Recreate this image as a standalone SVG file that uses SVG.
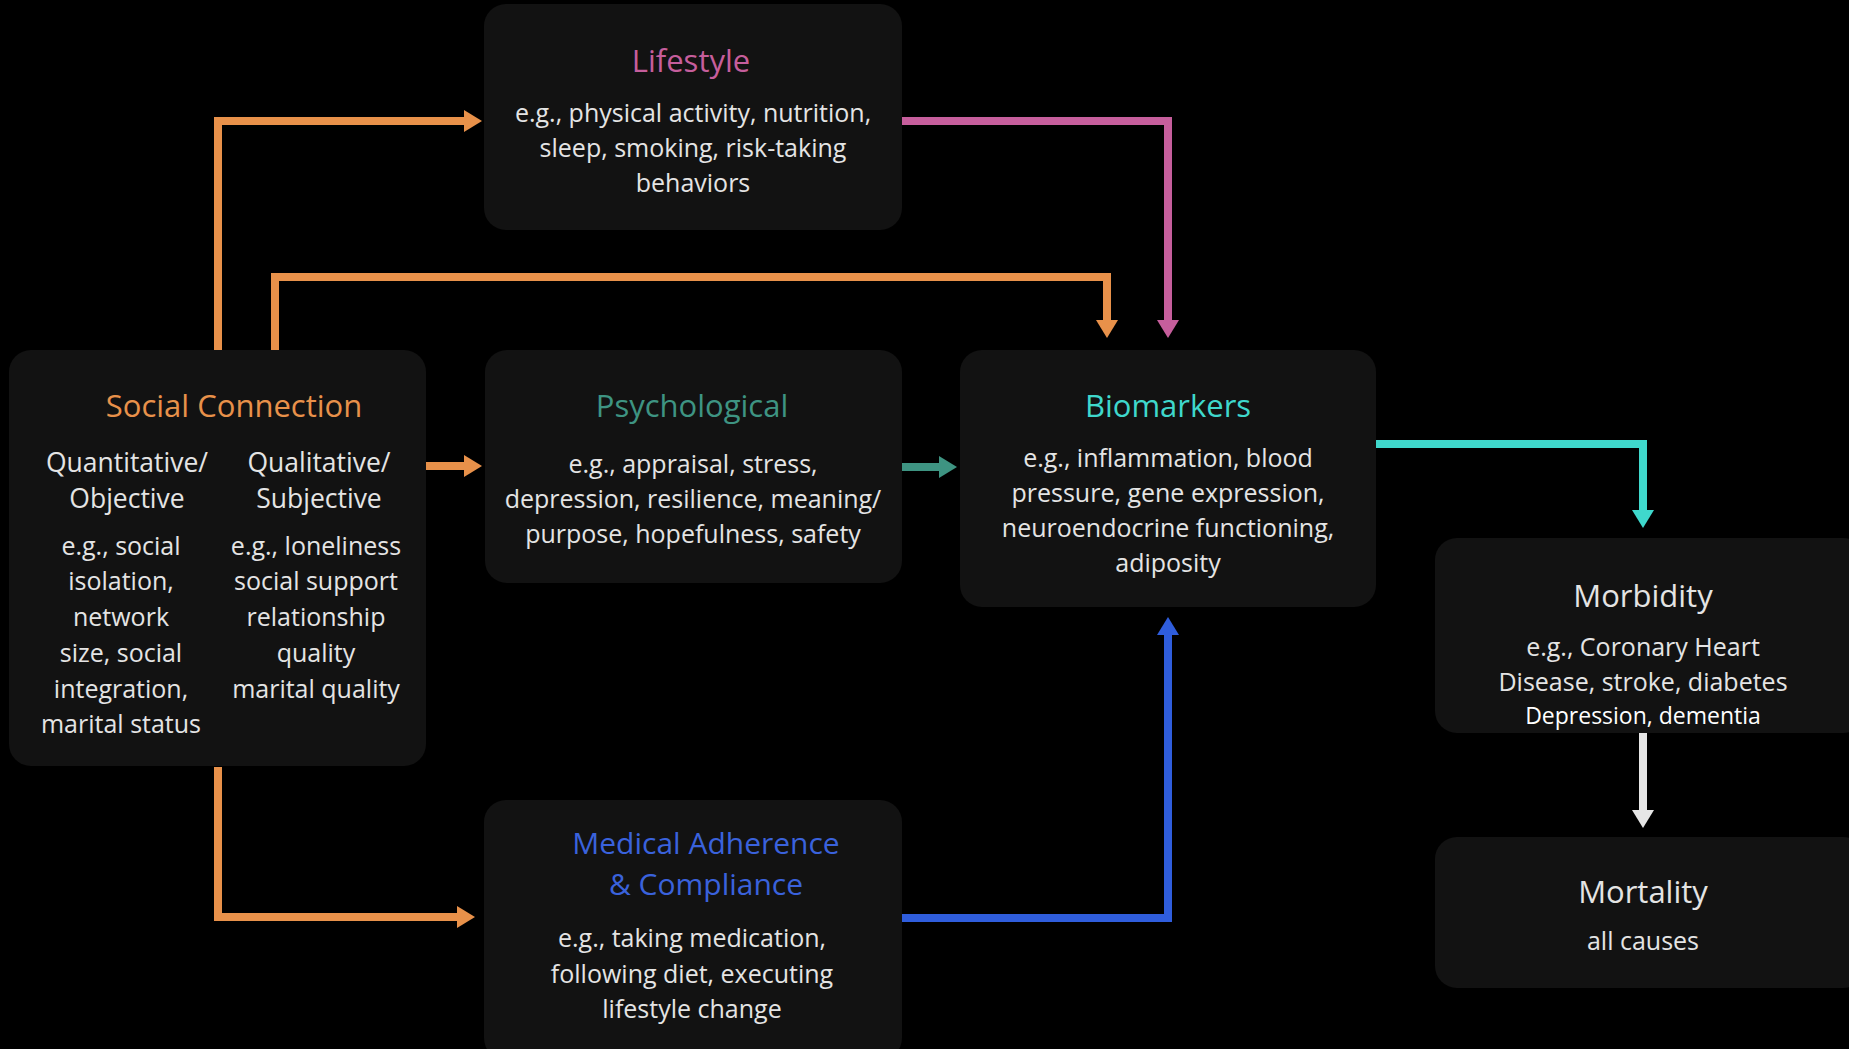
<svg xmlns="http://www.w3.org/2000/svg" width="1849" height="1049" viewBox="0 0 1849 1049">
<style>
.box{fill:#121212}
text{font-family:"Open Sans","Noto Sans","Liberation Sans",sans-serif;text-anchor:middle}
.t{font-size:31px}
.h{font-size:26.5px;fill:#e4e4e4}
.b{font-size:25px;fill:#e4e4e4}
.c{fill:none;stroke-width:8}
</style>
<defs>
<marker id="mOr" markerUnits="userSpaceOnUse" markerWidth="18" markerHeight="22" refX="0" refY="11" orient="auto"><path d="M0,0 L18,11 L0,22 z" fill="#e8914a"/></marker>
<marker id="mPk" markerUnits="userSpaceOnUse" markerWidth="18" markerHeight="22" refX="0" refY="11" orient="auto"><path d="M0,0 L18,11 L0,22 z" fill="#c65e9c"/></marker>
<marker id="mTl" markerUnits="userSpaceOnUse" markerWidth="18" markerHeight="22" refX="0" refY="11" orient="auto"><path d="M0,0 L18,11 L0,22 z" fill="#3e9482"/></marker>
<marker id="mCy" markerUnits="userSpaceOnUse" markerWidth="18" markerHeight="22" refX="0" refY="11" orient="auto"><path d="M0,0 L18,11 L0,22 z" fill="#3fd8cc"/></marker>
<marker id="mBl" markerUnits="userSpaceOnUse" markerWidth="18" markerHeight="22" refX="0" refY="11" orient="auto"><path d="M0,0 L18,11 L0,22 z" fill="#2f5ddc"/></marker>
<marker id="mWh" markerUnits="userSpaceOnUse" markerWidth="18" markerHeight="22" refX="0" refY="11" orient="auto"><path d="M0,0 L18,11 L0,22 z" fill="#e6e6e6"/></marker>
</defs>
<rect width="1849" height="1049" fill="#000"/>

<g id="connectors">
<path class="c" stroke="#e8914a" d="M218,350 V121 H464" marker-end="url(#mOr)"/>
<path class="c" stroke="#e8914a" d="M275,350 V277 H1107 V320" marker-end="url(#mOr)"/>
<path class="c" stroke="#c65e9c" d="M902,121 H1168 V320" marker-end="url(#mPk)"/>
<path class="c" stroke="#e8914a" d="M426,466 H464" marker-end="url(#mOr)"/>
<path class="c" stroke="#3e9482" d="M902,467 H939" marker-end="url(#mTl)"/>
<path class="c" stroke="#3fd8cc" d="M1376,444 H1643 V510" marker-end="url(#mCy)"/>
<path class="c" stroke="#e8914a" d="M218,767 V917 H457" marker-end="url(#mOr)"/>
<path class="c" stroke="#2f5ddc" d="M902,918 H1168 V635" marker-end="url(#mBl)"/>
<path class="c" stroke="#e6e6e6" d="M1643,733 V810" marker-end="url(#mWh)"/>
</g>

<g id="social">
<rect class="box" x="9" y="350" width="417" height="416" rx="22"/>
<text class="t" x="234" y="417" fill="#e8914a">Social Connection</text>
<text class="h" x="127" y="472">Quantitative/</text>
<text class="h" x="127" y="508">Objective</text>
<text class="h" x="319" y="472">Qualitative/</text>
<text class="h" x="319" y="508">Subjective</text>
<text class="b" x="121" y="555">e.g., social</text>
<text class="b" x="121" y="590">isolation,</text>
<text class="b" x="121" y="626">network</text>
<text class="b" x="121" y="662">size, social</text>
<text class="b" x="121" y="698">integration,</text>
<text class="b" x="121" y="733">marital status</text>
<text class="b" x="316" y="555">e.g., loneliness</text>
<text class="b" x="316" y="590">social support</text>
<text class="b" x="316" y="626">relationship</text>
<text class="b" x="316" y="662">quality</text>
<text class="b" x="316" y="698">marital quality</text>
</g>

<g id="lifestyle">
<rect class="box" x="484" y="4" width="418" height="226" rx="22"/>
<text class="t" x="691" y="72" fill="#c65e9c">Lifestyle</text>
<text class="b" x="693" y="122">e.g., physical activity, nutrition,</text>
<text class="b" x="693" y="157">sleep, smoking, risk-taking</text>
<text class="b" x="693" y="192">behaviors</text>
</g>

<g id="psychological">
<rect class="box" x="485" y="350" width="417" height="233" rx="22"/>
<text class="t" x="692" y="417" fill="#3e9482">Psychological</text>
<text class="b" x="693" y="473">e.g., appraisal, stress,</text>
<text class="b" x="693" y="508">depression, resilience, meaning/</text>
<text class="b" x="693" y="543">purpose, hopefulness, safety</text>
</g>

<g id="biomarkers">
<rect class="box" x="960" y="350" width="416" height="257" rx="22"/>
<text class="t" x="1168" y="417" fill="#3fd8cc">Biomarkers</text>
<text class="b" x="1168" y="467">e.g., inflammation, blood</text>
<text class="b" x="1168" y="502">pressure, gene expression,</text>
<text class="b" x="1168" y="537">neuroendocrine functioning,</text>
<text class="b" x="1168" y="572">adiposity</text>
</g>

<g id="medical">
<rect class="box" x="484" y="800" width="418" height="260" rx="22"/>
<text x="706" y="854" font-size="30" fill="#3a62dc">Medical Adherence</text>
<text x="706" y="895" font-size="30" fill="#3a62dc">&amp; Compliance</text>
<text class="b" x="692" y="947">e.g., taking medication,</text>
<text class="b" x="692" y="983">following diet, executing</text>
<text class="b" x="692" y="1018">lifestyle change</text>
</g>

<g id="morbidity">
<rect class="box" x="1435" y="538" width="430" height="195" rx="22"/>
<text class="t" x="1643" y="607" fill="#e4e4e4">Morbidity</text>
<text class="b" x="1643" y="656">e.g., Coronary Heart</text>
<text class="b" x="1643" y="691">Disease, stroke, diabetes</text>
<text x="1643" y="724" font-size="23" fill="#ffffff">Depression, dementia</text>
</g>

<g id="mortality">
<rect class="box" x="1435" y="837" width="430" height="151" rx="22"/>
<text class="t" x="1643" y="903" fill="#e4e4e4">Mortality</text>
<text class="b" x="1643" y="950">all causes</text>
</g>
</svg>
